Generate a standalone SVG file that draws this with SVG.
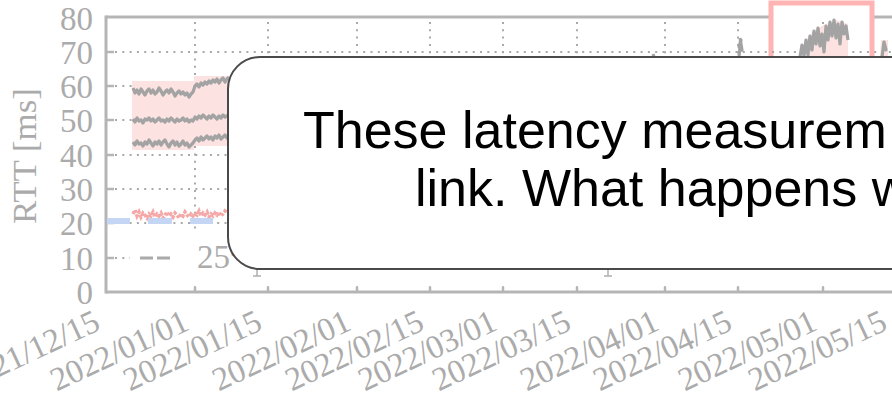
<svg xmlns="http://www.w3.org/2000/svg" width="892" height="399" viewBox="0 0 892 399">
  <defs>
    <style>
      .axis { stroke: #b5b5b5; stroke-width: 3; fill: none; }
      .tick { stroke: #b5b5b5; stroke-width: 2.5; fill: none; }
      .grid { stroke: #a9a9a9; stroke-width: 2; stroke-dasharray: 2 5.3; fill: none; }
      .lbl { font-family: "Liberation Serif", "DejaVu Serif", serif; font-size: 33px; fill: #ababab; }
      .rtt { fill: none; stroke: #a3a3a3; stroke-width: 3.2; stroke-linejoin: round; }
      .rtt-low { fill: none; stroke: #f6a8a8; stroke-width: 3.5; stroke-dasharray: 3 1.5; }
      .base { fill: #c4d6f4; }
      .band { fill: #fde2e2; }
      .callout-text { font-family: "Liberation Sans", Arial, sans-serif; font-size: 52px; fill: #000; }
    </style>
  </defs>

  <rect width="892" height="399" fill="#ffffff"/>

  <!-- plot frame -->
  <g id="frame">
    <line class="axis" x1="106" y1="17" x2="892" y2="17"/>
    <line class="axis" x1="106" y1="292" x2="892" y2="292"/>
    <line class="axis" x1="106" y1="15.5" x2="106" y2="293.5"/>
  </g>

  <!-- highlighted period -->
  <rect id="highlight" x="771" y="3" width="101" height="62" fill="#ffffff" stroke="#ffb4b4" stroke-width="5"/>

  <!-- grid and ticks -->
  <g id="grid">
    <g class="grid">
      <line x1="115" y1="52" x2="892" y2="52"/>
      <line x1="115" y1="86" x2="892" y2="86"/>
      <line x1="115" y1="120" x2="892" y2="120"/>
      <line x1="115" y1="155" x2="892" y2="155"/>
      <line x1="115" y1="189" x2="892" y2="189"/>
      <line x1="115" y1="223" x2="892" y2="223"/>
      <line x1="115" y1="258" x2="892" y2="258"/>
      <line x1="195" y1="22" x2="195" y2="288"/>
      <line x1="268" y1="22" x2="268" y2="288"/>
      <line x1="357" y1="22" x2="357" y2="288"/>
      <line x1="430" y1="22" x2="430" y2="288"/>
      <line x1="503" y1="22" x2="503" y2="288"/>
      <line x1="577" y1="22" x2="577" y2="288"/>
      <line x1="665" y1="22" x2="665" y2="288"/>
      <line x1="738" y1="22" x2="738" y2="288"/>
      <line x1="823" y1="22" x2="823" y2="288"/>
    </g>
    <g class="tick">
      <line x1="106" y1="52" x2="114" y2="52"/>
      <line x1="106" y1="86" x2="114" y2="86"/>
      <line x1="106" y1="120" x2="114" y2="120"/>
      <line x1="106" y1="155" x2="114" y2="155"/>
      <line x1="106" y1="189" x2="114" y2="189"/>
      <line x1="106" y1="223" x2="114" y2="223"/>
      <line x1="106" y1="258" x2="114" y2="258"/>
      <line x1="195" y1="292" x2="195" y2="287"/>
      <line x1="268" y1="292" x2="268" y2="287"/>
      <line x1="357" y1="292" x2="357" y2="287"/>
      <line x1="430" y1="292" x2="430" y2="287"/>
      <line x1="503" y1="292" x2="503" y2="287"/>
      <line x1="577" y1="292" x2="577" y2="287"/>
      <line x1="665" y1="292" x2="665" y2="287"/>
      <line x1="738" y1="292" x2="738" y2="287"/>
      <line x1="823" y1="292" x2="823" y2="287"/>
    </g>
  </g>

  <!-- measurements -->
  <g id="series">
    <path class="band" d="M132,81 L194,81 L194,76 L229,76 L229,146 L194,146 L194,150 L132,150 Z"/>
    <polyline class="rtt" points="133,88 135,93 137,90 139,94 141,89 143,92 145,95 147,91 149,89 151,93 153,90 155,94 157,92 159,88 161,91 163,95 165,92 167,90 169,93 171,89 173,92 175,96 177,93 179,91 181,94 183,92 185,95 187,93 189,97 191,94 193,92 195,86 197,84 199,87 201,83 203,85 205,82 207,84 209,81 211,83 213,80 215,82 217,79 219,83 221,80 223,78 225,82 227,79 229,77"/>
    <polyline class="rtt" points="133,119 135,122 137,118 139,121 141,120 143,123 145,119 147,120 149,118 151,121 153,119 155,122 157,120 159,118 161,121 163,120 165,122 167,119 169,121 171,118 173,120 175,122 177,119 179,121 181,120 183,118 185,121 187,119 189,122 191,120 193,121 195,117 197,119 199,116 201,118 203,115 205,117 207,119 209,116 211,118 213,115 215,117 217,119 219,116 221,118 223,115 225,117 227,116 229,114"/>
    <polyline class="rtt" points="133,142 135,145 137,141 139,144 141,143 143,146 145,142 147,144 149,140 151,143 153,146 155,142 157,144 159,141 161,145 163,142 165,140 167,144 169,147 171,143 173,141 175,145 177,142 179,146 181,144 183,141 185,145 187,143 189,147 191,145 193,143 195,140 197,138 199,141 201,137 203,140 205,138 207,136 209,139 211,137 213,140 215,136 217,138 219,135 221,139 223,137 225,135 227,138 229,136"/>
    <polyline class="rtt-low" points="133,214 135,210 137,216 139,212 141,217 143,213 145,215 147,218 149,214 151,216 153,212 155,217 157,214 159,216 161,213 163,218 165,215 167,212 169,216 171,214 173,217 175,213 177,215 179,218 181,214 183,216 185,212 187,215 189,217 191,214 193,216 195,213 197,215 199,211 201,216 203,213 205,215 207,212 209,217 211,214 213,216 215,213 217,215 219,212 221,216 223,214 225,211 227,213 229,210"/>
    <rect class="base" x="107" y="218" width="23" height="6"/>
    <rect class="base" x="148" y="218" width="24" height="6"/>
    <rect class="base" x="190" y="218" width="23" height="6"/>

    <path class="band" d="M806,57 L806,40 L814,30 L826,24 L836,20 L848,24 L848,57 Z"/>
    <polyline class="rtt" points="800,57 802,45 804,56 806,40 808,55 810,36 812,50 814,31 816,44 818,28 820,46 822,34 824,52 826,26 828,40 830,22 832,36 834,20 836,38 838,24 840,44 842,22 844,34 846,26 848,40"/>
    <polyline class="rtt" points="739,56 741,40 739,47 742,50 740,38"/>
    <path class="band" d="M880,57 L881,40 L888,40 L888,57 Z"/>
    <polyline class="rtt" points="882,57 884,42 886,50 883,46"/>
    <line class="rtt" x1="653" y1="54" x2="654" y2="57"/>
  </g>

  <!-- legend -->
  <g id="legend">
    <rect x="130" y="232" width="750" height="54" fill="#ffffff"/>
    <line x1="140" y1="258" x2="171" y2="258" stroke="#aaaaaa" stroke-width="3" stroke-dasharray="13 4"/>
    <text class="lbl" x="197" y="268" font-size="30">25<tspan dy="-12" font-size="20">t</tspan></text>
    <path d="M257,267 V276 M253,276 H261" stroke="#b0b0b0" stroke-width="1.5" fill="none"/>
    <path d="M608,267 V276 M604,276 H612" stroke="#b0b0b0" stroke-width="1.5" fill="none"/>
  </g>

  <!-- axis labels -->
  <g id="y-labels" class="lbl" text-anchor="end">
    <text x="93" y="30">80</text>
    <text x="93" y="64">70</text>
    <text x="93" y="98">60</text>
    <text x="93" y="132">50</text>
    <text x="93" y="167">40</text>
    <text x="93" y="201">30</text>
    <text x="93" y="235">20</text>
    <text x="93" y="270">10</text>
    <text x="93" y="304">0</text>
  </g>
  <text class="lbl" x="36" y="156" text-anchor="middle" textLength="136" lengthAdjust="spacingAndGlyphs" transform="rotate(-90 36 156)">RTT [ms]</text>

  <g id="x-labels" class="lbl" text-anchor="end">
    <text transform="translate(102,329) rotate(-25)" textLength="148">2021/12/15</text>
    <text transform="translate(191,329) rotate(-25)" textLength="148">2022/01/01</text>
    <text transform="translate(264,329) rotate(-25)" textLength="148">2022/01/15</text>
    <text transform="translate(353,329) rotate(-25)" textLength="148">2022/02/01</text>
    <text transform="translate(426,329) rotate(-25)" textLength="148">2022/02/15</text>
    <text transform="translate(499,329) rotate(-25)" textLength="148">2022/03/01</text>
    <text transform="translate(573,329) rotate(-25)" textLength="148">2022/03/15</text>
    <text transform="translate(661,329) rotate(-25)" textLength="148">2022/04/01</text>
    <text transform="translate(734,329) rotate(-25)" textLength="148">2022/04/15</text>
    <text transform="translate(819,329) rotate(-25)" textLength="148">2022/05/01</text>
    <text transform="translate(889,329) rotate(-25)" textLength="148">2022/05/15</text>
  </g>

  <!-- callout -->
  <g id="callout">
    <rect x="228" y="57" width="720" height="212" rx="32" ry="32" fill="#ffffff" stroke="#4a4a4a" stroke-width="2"/>
    <text class="callout-text" x="303" y="148">These latency measurem</text>
    <text class="callout-text" x="415" y="206">link. What happens w</text>
  </g>
</svg>
